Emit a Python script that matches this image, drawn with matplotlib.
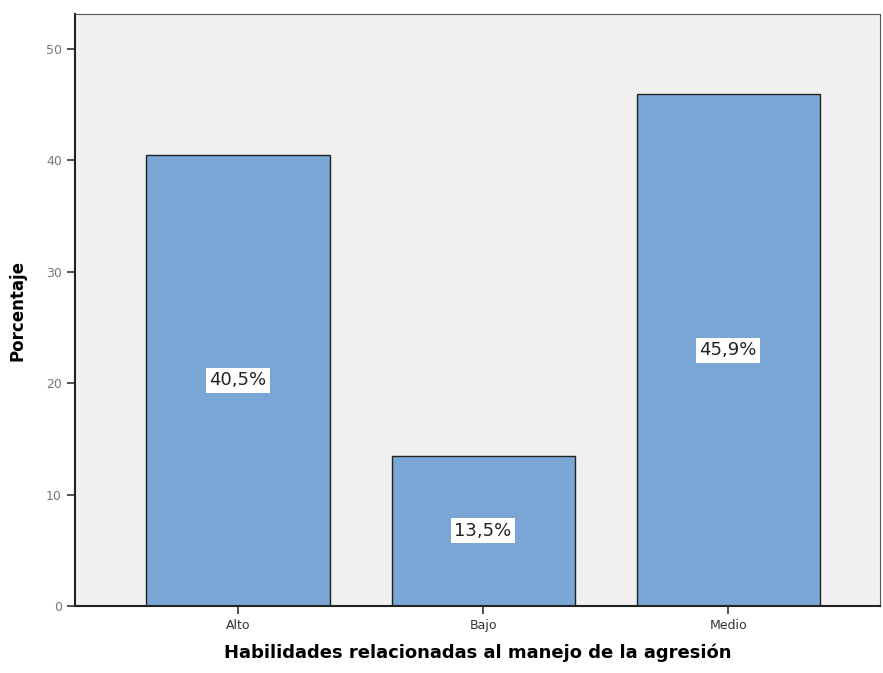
import matplotlib
matplotlib.use("Agg")
import matplotlib.pyplot as plt

categories = ["Alto", "Bajo", "Medio"]
values = [40.5, 13.5, 45.9]
labels = ["40,5%", "13,5%", "45,9%"]
yticks = [0, 10, 20, 30, 40, 50]

fig = plt.figure(figsize=(8.83, 6.73), dpi=100)
ax = fig.add_axes([0.085, 0.0996, 0.9116, 0.8794])
ax.set_facecolor("#F0F0F0")
x = range(len(categories))
bars = ax.bar(x, values, width=0.747, color="#79A6D4", edgecolor="#222222", linewidth=1.0, zorder=2)
for b, lab in zip(bars, labels):
    ax.text(b.get_x() + b.get_width() / 2, b.get_height() / 2, lab, ha="center", va="center",
            fontsize=13, color="#222222",
            bbox=dict(facecolor="white", edgecolor="none", pad=2.5), zorder=3)
ax.set_xlim(-0.665, 2.62)
ax.set_ylim(0, 53.1)
ax.set_xticks(list(x))
ax.set_xticklabels(categories, fontsize=9, color="#333333")
ax.set_yticks(yticks)
ax.set_yticklabels([str(t) for t in yticks], fontsize=9, color="#777777")
ax.tick_params(axis="both", length=6, width=1.2, color="#333333")
for s in ["left", "bottom"]:
    ax.spines[s].set_linewidth(1.5)
    ax.spines[s].set_color("#222222")
for s in ["top", "right"]:
    ax.spines[s].set_linewidth(0.8)
    ax.spines[s].set_color("#555555")
ax.set_ylabel("Porcentaje", fontsize=12, fontweight="bold", labelpad=14)
ax.set_xlabel("Habilidades relacionadas al manejo de la agresión", fontsize=13, fontweight="bold", labelpad=8)
fig.savefig("out.png", dpi=100)
